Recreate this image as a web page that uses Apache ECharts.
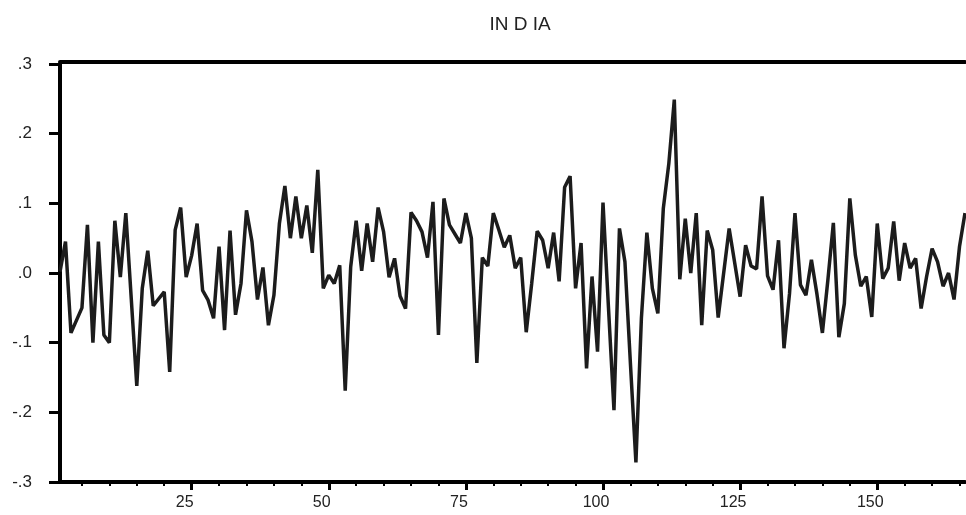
<!DOCTYPE html>
<html>
<head>
<meta charset="utf-8">
<title>INDIA</title>
<script src="https://cdn.jsdelivr.net/npm/echarts@6/dist/echarts.min.js"></script>
<style>
  html, body { margin:0; padding:0; background:#fff; }
  #chart { width:966px; height:515px; }
</style>
</head>
<body>
<div id="chart"></div>
<script>
  // series values, observation 1..166
  var values = [
    0.002, 0.045, -0.086, -0.068, -0.05, 0.069, -0.1, 0.045, -0.089, -0.1,
    0.075, -0.006, 0.086, -0.038, -0.162, -0.022, 0.032, -0.047, -0.037, -0.027,
    -0.142, 0.062, 0.094, -0.006, 0.025, 0.071, -0.025, -0.039, -0.065, 0.038,
    -0.082, 0.061, -0.06, -0.015, 0.09, 0.045, -0.038, 0.008, -0.075, -0.032,
    0.071, 0.125, 0.05, 0.11, 0.05, 0.097, 0.029, 0.148, -0.022, -0.003,
    -0.015, 0.011, -0.169, 0.009, 0.075, 0.003, 0.071, 0.016, 0.094, 0.059,
    -0.006, 0.021, -0.033, -0.051, 0.087, 0.075, 0.059, 0.022, 0.102, -0.089,
    0.107, 0.069, 0.056, 0.043, 0.086, 0.05, -0.129, 0.022, 0.01, 0.086,
    0.062, 0.037, 0.054, 0.007, 0.022, -0.085, -0.015, 0.06, 0.047, 0.007,
    0.058, -0.012, 0.123, 0.139, -0.022, 0.043, -0.137, -0.005, -0.113, 0.101,
    -0.05, -0.197, 0.064, 0.016, -0.13, -0.272, -0.065, 0.058, -0.022, -0.058,
    0.093, 0.157, 0.249, -0.009, 0.078, 0.0, 0.086, -0.075, 0.061, 0.033,
    -0.064, 0.0, 0.064, 0.015, -0.034, 0.04, 0.01, 0.006, 0.11, -0.004,
    -0.024, 0.047, -0.108, -0.03, 0.086, -0.017, -0.032, 0.019, -0.03, -0.086,
    -0.01, 0.072, -0.092, -0.044, 0.107, 0.026, -0.019, -0.005, -0.063, 0.071,
    -0.008, 0.007, 0.074, -0.011, 0.043, 0.007, 0.021, -0.051, -0.005, 0.035,
    0.016, -0.019, 0.0, -0.038, 0.038, 0.086
  ];
  var majorTicks = [25, 50, 75, 100, 125, 150];
  var minorTicks = [5, 10, 15, 20, 30, 35, 40, 45, 55, 60, 65, 70, 80, 85, 90, 95,
                    105, 110, 115, 120, 130, 135, 140, 145, 155, 160, 165];

  var points = values.map(function (v, i) { return [i + 1, v]; });
  var font = '"Liberation Sans", Arial, sans-serif';

  var chart = echarts.init(document.getElementById('chart'));
  chart.setOption({
    animation: false,
    title: {
      text: 'IN D IA',
      left: 515, top: 10,
      textAlign: 'center',
      textStyle: { fontFamily: font, fontSize: 19, fontWeight: 'normal', color: '#222' }
    },
    grid: { left: 60, right: 1, top: 64, bottom: 33 },
    xAxis: [
      {
        type: 'value', min: 1, max: 166, position: 'bottom',
        axisLine: { onZero: false, lineStyle: { color: '#000', width: 4 } },
        axisTick: { customValues: minorTicks, length: 4, lineStyle: { color: '#000', width: 2 } },
        axisLabel: { show: false },
        splitLine: { show: false }
      },
      {
        type: 'value', min: 1, max: 166, position: 'bottom',
        axisLine: { show: false, onZero: false },
        axisTick: { customValues: majorTicks, length: 8, lineStyle: { color: '#000', width: 3 } },
        axisLabel: {
          customValues: majorTicks, margin: 13, padding: [0, 14, 0, 0],
          fontFamily: font, fontSize: 16, color: '#222'
        },
        splitLine: { show: false }
      },
      {
        // top frame line
        type: 'value', min: 1, max: 166, position: 'top', offset: 2,
        axisLine: { onZero: false, lineStyle: { color: '#000', width: 4 } },
        axisTick: { show: false },
        axisLabel: { show: false },
        splitLine: { show: false }
      }
    ],
    yAxis: {
      type: 'value', min: -0.3, max: 0.3, interval: 0.1,
      axisLine: { show: true, onZero: false, lineStyle: { color: '#000', width: 4 } },
      axisTick: { show: true, length: 11, lineStyle: { color: '#000', width: 3 } },
      axisLabel: {
        margin: 28, fontFamily: font, fontSize: 17, color: '#222',
        formatter: function (v) { return v.toFixed(1).replace('0.', '.'); }
      },
      splitLine: { show: false }
    },
    series: [{
      type: 'line',
      xAxisIndex: 0,
      data: points,
      showSymbol: false,
      lineStyle: { color: '#1c1c1c', width: 3.5 }
    }]
  });
</script>
</body>
</html>
